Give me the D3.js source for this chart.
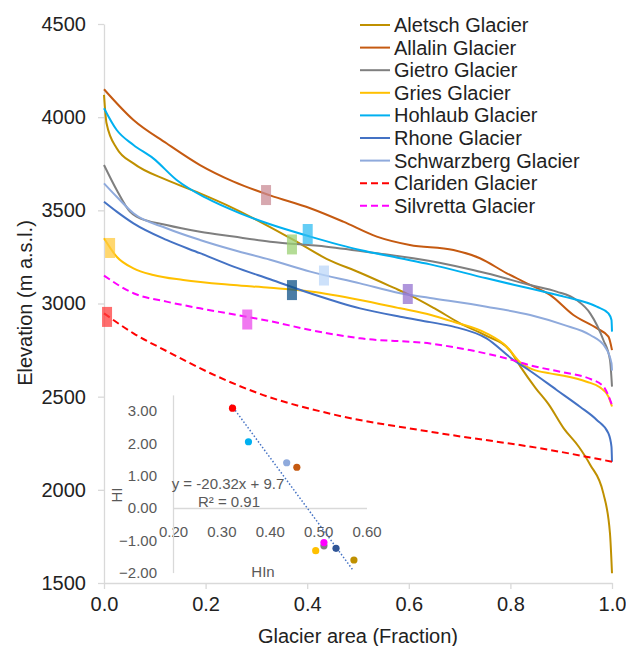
<!DOCTYPE html>
<html>
<head>
<meta charset="utf-8">
<script src="https://cdn.jsdelivr.net/npm/d3@7"></script>
<style>
  body { margin: 0; background: #fff; }
  svg { font-family: "Liberation Sans", Arial, sans-serif; }
</style>
</head>
<body>
<div id="chart"></div>
<script>
// hypsometric curves: [area fraction, elevation]
var aletsch = [[0,4120],[0.005,3967],[0.025,3833],[0.058,3752],[0.123,3663],[0.189,3591],[0.255,3511],[0.327,3410],[0.373,3341],[0.438,3240],[0.504,3165],[0.57,3085],[0.6,3048],[0.65,2975],[0.70,2895],[0.75,2830],[0.8,2745],[0.82,2660],[0.85,2545],[0.875,2460],[0.905,2330],[0.935,2230],[0.957,2135],[0.983,1981],[0.996,1767],[1.0,1552]];
var allalin = [[0,4150],[0.058,3985],[0.123,3860],[0.189,3743],[0.255,3654],[0.327,3580],[0.406,3511],[0.471,3439],[0.537,3359],[0.602,3314],[0.688,3287],[0.74,3243],[0.793,3162],[0.839,3100],[0.878,3046],[0.924,2938],[0.97,2867],[0.993,2822],[1.0,2750]];
var gietro = [[0,3743],[0.025,3609],[0.051,3493],[0.064,3466],[0.123,3421],[0.189,3385],[0.255,3359],[0.327,3332],[0.438,3305],[0.537,3270],[0.642,3228],[0.753,3162],[0.839,3099],[0.891,3064],[0.93,3019],[0.957,2947],[0.983,2804],[0.996,2697],[1.0,2554]];
var gries = [[0,3350],[0.025,3251],[0.058,3189],[0.097,3153],[0.156,3126],[0.255,3099],[0.327,3084],[0.406,3064],[0.504,3019],[0.583,2974],[0.642,2940],[0.688,2902],[0.753,2840],[0.793,2768],[0.819,2685],[0.845,2645],[0.878,2625],[0.905,2612],[0.95,2580],[0.976,2550],[0.993,2500],[1.0,2447]];
var hohlaub = [[0,4048],[0.025,3931],[0.058,3851],[0.097,3779],[0.143,3663],[0.202,3565],[0.268,3484],[0.327,3425],[0.406,3359],[0.504,3287],[0.583,3243],[0.642,3210],[0.753,3135],[0.839,3080],[0.878,3055],[0.905,3037],[0.97,2983],[0.993,2947],[0.999,2911],[1.0,2849]];
var rhone = [[0,3546],[0.025,3493],[0.058,3430],[0.123,3341],[0.189,3270],[0.255,3198],[0.327,3130],[0.406,3055],[0.504,2974],[0.583,2929],[0.642,2900],[0.688,2876],[0.753,2813],[0.806,2697],[0.839,2638],[0.891,2536],[0.937,2446],[0.97,2375],[0.993,2303],[0.999,2231],[1.0,2151]];
var schwarzberg = [[0,3645],[0.025,3573],[0.058,3484],[0.123,3404],[0.189,3341],[0.255,3287],[0.327,3235],[0.406,3171],[0.504,3108],[0.583,3055],[0.642,3030],[0.753,2983],[0.839,2938],[0.905,2885],[0.957,2831],[0.986,2768],[0.999,2680],[1.0,2640]];
var clariden = [[0,2947],[0.058,2840],[0.123,2745],[0.222,2610],[0.307,2515],[0.451,2405],[0.642,2312],[0.878,2214],[1.0,2151]];
var silvretta = [[0,3150],[0.058,3055],[0.123,3010],[0.189,2974],[0.281,2929],[0.327,2905],[0.406,2858],[0.504,2813],[0.642,2785],[0.72,2750],[0.799,2700],[0.839,2668],[0.878,2645],[0.905,2630],[0.957,2595],[0.983,2555],[1.0,2455]];

var names = ["Aletsch Glacier", "Allalin Glacier", "Gietro Glacier", "Gries Glacier", "Hohlaub Glacier",
             "Rhone Glacier", "Schwarzberg Glacier", "Clariden Glacier", "Silvretta Glacier"];
var curves = [aletsch, allalin, gietro, gries, hohlaub, rhone, schwarzberg, clariden, silvretta];
var lineColors = ["#bf9000", "#c55a11", "#7f7f7f", "#ffc000", "#00b0f0", "#4472c4", "#8faadc", "#ff0000", "#ff00ff"];
var dashed = [false, false, false, false, false, false, false, true, true];

// highlighted points on each curve
var markFrac = [0.598, 0.319, 0.370, 0.012, 0.401, 0.370, 0.433, 0.006, 0.282];
var markElev = [3051, 3582, 3317, 3298, 3373, 3072, 3150, 2928, 2914];
var markColors = ["#9473d0", "#c98b94", "#9bd073", "#ffca3e", "#30bcf2", "#0f5287", "#bcd7f8", "#ff3e3e", "#eb4beb"];

// inset: HIn vs HI
var hln = [0.574, 0.456, 0.512, 0.495, 0.356, 0.537, 0.435, 0.323, 0.512];
var hi = [-1.61, 1.26, -1.17, -1.32, 2.05, -1.25, 1.40, 3.09, -1.07];
var dotColors = ["#bf9000", "#c55a11", "#7f7f7f", "#ffc000", "#00b0f0", "#2f5597", "#8faadc", "#ff0000", "#ff00ff"];
var slope = -20.32, intercept = 9.7;

var W = 626, H = 646;
var svg = d3.select("#chart").append("svg")
    .attr("width", W)
    .attr("height", H);

var x = d3.scaleLinear().domain([0, 1]).range([104, 612]);
var y = d3.scaleLinear().domain([1500, 4500]).range([583, 24]);

// axes
var gx = svg.append("g")
    .attr("transform", "translate(0,583)")
    .call(d3.axisBottom(x).tickValues([0, 0.2, 0.4, 0.6, 0.8, 1]).tickFormat(d3.format(".1f"))
      .tickSize(6).tickSizeOuter(0).tickPadding(8));
var gy = svg.append("g")
    .attr("transform", "translate(104,0)")
    .call(d3.axisLeft(y).tickValues([1500, 2000, 2500, 3000, 3500, 4000, 4500]).tickFormat(d3.format("d"))
      .tickSize(6).tickSizeOuter(0).tickPadding(12));
[gx, gy].forEach(function(g) {
  g.selectAll("path, line").attr("stroke", "#d9d9d9").attr("stroke-width", 1.3);
  g.selectAll("text").attr("fill", "#222").style("font-size", "20px");
});

svg.append("text")
    .attr("x", 358).attr("y", 643)
    .attr("text-anchor", "middle")
    .attr("fill", "#222")
    .style("font-size", "20px")
    .text("Glacier area (Fraction)");
svg.append("text")
    .attr("transform", "translate(32,303) rotate(-90)")
    .attr("text-anchor", "middle")
    .attr("fill", "#222")
    .style("font-size", "20px")
    .text("Elevation (m a.s.l.)");

// curves
var line = d3.line()
    .x(function(d) { return x(d[0]); })
    .y(function(d) { return y(d[1]); })
    .curve(d3.curveMonotoneX);

svg.append("g").selectAll("path")
  .data(curves)
  .enter().append("path")
    .attr("d", line)
    .attr("fill", "none")
    .attr("stroke", function(d, i) { return lineColors[i]; })
    .attr("stroke-width", 2)
    .attr("stroke-dasharray", function(d, i) { return dashed[i] ? "7,4" : null; });

// markers
svg.append("g").selectAll("rect")
  .data(markFrac)
  .enter().append("rect")
    .attr("x", function(d) { return x(d) - 5; })
    .attr("y", function(d, i) { return y(markElev[i]) - 10; })
    .attr("width", 10)
    .attr("height", 20)
    .attr("fill", function(d, i) { return markColors[i]; })
    .attr("opacity", 0.75);

// legend
var legend = svg.append("g")
  .selectAll("g")
  .data(names)
  .enter().append("g")
    .attr("transform", function(d, i) { return "translate(0," + (25 + i * 22.6) + ")"; });
legend.append("line")
    .attr("x1", 360).attr("x2", 390)
    .attr("stroke", function(d, i) { return lineColors[i]; })
    .attr("stroke-width", 2)
    .attr("stroke-dasharray", function(d, i) { return dashed[i] ? "7,4" : null; });
legend.append("text")
    .attr("x", 394)
    .attr("dy", "0.35em")
    .attr("fill", "#222")
    .style("font-size", "20px")
    .text(function(d) { return d; });

// inset scatter
var xi = d3.scaleLinear().domain([0.2, 0.6]).range([173, 366.5]);
var yi = d3.scaleLinear().domain([-2, 3.5]).range([572.6, 394.9]);

var gix = svg.append("g")
    .attr("transform", "translate(0," + yi(0) + ")")
    .call(d3.axisBottom(xi).tickValues([0.2, 0.3, 0.4, 0.5, 0.6]).tickFormat(d3.format(".2f"))
      .tickSize(0).tickPadding(18));
var giy = svg.append("g")
    .attr("transform", "translate(173,0)")
    .call(d3.axisLeft(yi).tickValues([-2, -1, 0, 1, 2, 3]).tickFormat(d3.format(".2f"))
      .tickSize(0).tickPadding(16));
[gix, giy].forEach(function(g) {
  g.selectAll("path").attr("stroke", "#d9d9d9").attr("stroke-width", 1.3);
  g.selectAll("text").attr("fill", "#595959").style("font-size", "15px");
});

svg.append("text")
    .attr("transform", "translate(122,495) rotate(-90)")
    .attr("text-anchor", "middle")
    .attr("fill", "#595959")
    .style("font-size", "15px")
    .text("HI");
svg.append("text")
    .attr("x", 263).attr("y", 577)
    .attr("text-anchor", "middle")
    .attr("fill", "#595959")
    .style("font-size", "15px")
    .text("HIn");

// trendline
var trendX = [0.32, 0.572];
svg.append("line")
    .attr("x1", xi(trendX[0])).attr("y1", yi(slope * trendX[0] + intercept))
    .attr("x2", xi(trendX[1])).attr("y2", yi(slope * trendX[1] + intercept))
    .attr("stroke", "#4472c4")
    .attr("stroke-width", 1.5)
    .attr("stroke-dasharray", "1.5,2");

svg.append("g").selectAll("circle")
  .data(hln)
  .enter().append("circle")
    .attr("cx", function(d) { return xi(d); })
    .attr("cy", function(d, i) { return yi(hi[i]); })
    .attr("r", 3.6)
    .attr("fill", function(d, i) { return dotColors[i]; });

svg.append("text")
    .attr("x", 228).attr("y", 489)
    .attr("text-anchor", "middle")
    .attr("fill", "#595959")
    .style("font-size", "15px")
    .text("y = -20.32x + 9.7");
svg.append("text")
    .attr("x", 229).attr("y", 507)
    .attr("text-anchor", "middle")
    .attr("fill", "#595959")
    .style("font-size", "15px")
    .text("R² = 0.91");
</script>
</body>
</html>
